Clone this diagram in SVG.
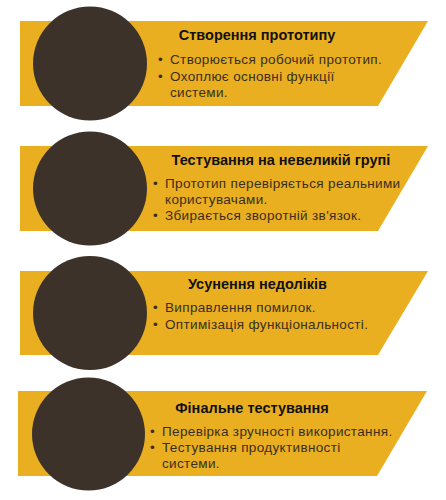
<svg xmlns="http://www.w3.org/2000/svg" width="446" height="500" viewBox="0 0 446 500">
<style>
.band{fill:#E9AF21}
.disc{fill:#3D322A}
.title{font-family:"Liberation Sans",Arial,sans-serif;font-weight:700;font-size:14.5px;fill:#111;text-anchor:middle}
.body{font-family:"Liberation Sans",Arial,sans-serif;font-size:13.5px;letter-spacing:0.35px;fill:#3A2E1E}
</style>
<rect width="446" height="500" fill="#fff"/>
<g id="step1">
<polygon class="band" points="20,21 428,21 378,106 20,106"/>
<circle class="disc" cx="90" cy="63.5" r="57"/>
<text class="title" x="257" y="40">Створення прототипу</text>
<text class="body" x="158" y="64">•</text><text class="body" x="170" y="64">Створюється робочий прототип.</text>
<text class="body" x="158" y="81">•</text><text class="body" x="170" y="81">Охоплює основні функції</text>
<text class="body" x="170" y="97">системи.</text>
</g>
<g id="step2">
<polygon class="band" points="20,146 428,146 378,231 20,231"/>
<circle class="disc" cx="90" cy="188.5" r="57"/>
<text class="title" x="281" y="165">Тестування на невеликій групі</text>
<text class="body" x="153" y="188">•</text><text class="body" x="165" y="188">Прототип перевіряється реальними</text>
<text class="body" x="165" y="204">користувачами.</text>
<text class="body" x="153" y="220">•</text><text class="body" x="165" y="220">Збирається зворотній зв'язок.</text>
</g>
<g id="step3">
<polygon class="band" points="20,271 428,271 378,355 20,355"/>
<circle class="disc" cx="90" cy="313" r="57"/>
<text class="title" x="257.5" y="289">Усунення недоліків</text>
<text class="body" x="153" y="312">•</text><text class="body" x="165" y="312">Виправлення помилок.</text>
<text class="body" x="153" y="329">•</text><text class="body" x="165" y="329">Оптимізація функціональності.</text>
</g>
<g id="step4">
<polygon class="band" points="18,391 427,391 377,476 18,476"/>
<circle class="disc" cx="88.5" cy="434" r="56.5"/>
<text class="title" x="252" y="413">Фінальне тестування</text>
<text class="body" x="150" y="436">•</text><text class="body" x="162" y="436">Перевірка зручності використання.</text>
<text class="body" x="150" y="452">•</text><text class="body" x="162" y="452">Тестування продуктивності</text>
<text class="body" x="162" y="468">системи.</text>
</g>
</svg>
